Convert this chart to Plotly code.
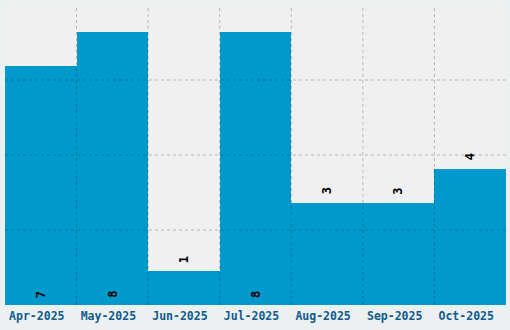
import plotly.graph_objects as go

categories = ["Apr-2025", "May-2025", "Jun-2025", "Jul-2025", "Aug-2025", "Sep-2025", "Oct-2025"]
values = [7, 8, 1, 8, 3, 3, 4]
text_positions = ["inside", "inside", "outside", "inside", "outside", "outside", "outside"]

y_max = 8.8
y_step = 2.2

fig = go.Figure()
fig.add_trace(go.Bar(
    x=list(range(len(categories))),
    y=values,
    marker=dict(color="#0099cc", line=dict(width=0)),
    cliponaxis=False,
    hoverinfo="skip",
))

for i, (v, pos) in enumerate(zip(values, text_positions)):
    fig.add_annotation(
        x=i, y=(0 if pos == "inside" else v), xref="x", yref="y",
        text=str(v), showarrow=False, textangle=-90,
        yanchor="bottom", xanchor="center",
        yshift=(5 if pos == "inside" else 6),
        font=dict(family="DejaVu Sans Mono", size=12, color="#000000", weight="bold"),
    )

grid_color = "rgba(0,0,0,0.24)"
shapes = []
for i in range(1, len(categories)):
    shapes.append(dict(type="line", xref="x", yref="paper", x0=i - 0.5, x1=i - 0.5, y0=0, y1=1,
                       line=dict(color=grid_color, width=1, dash="dot"), layer="above"))
k = 1
while k * y_step < y_max - 1e-9:
    shapes.append(dict(type="line", xref="paper", yref="y", x0=0, x1=1, y0=k * y_step, y1=k * y_step,
                       line=dict(color=grid_color, width=1, dash="dot"), layer="above"))
    k += 1

fig.update_layout(
    width=510, height=330,
    margin=dict(l=5, r=4, t=5, b=25),
    paper_bgcolor="#edf0f0",
    plot_bgcolor="#f0f0f0",
    bargap=0,
    showlegend=False,
    shapes=shapes,
    xaxis=dict(
        range=[-0.5, len(categories) - 0.5],
        tickmode="array",
        tickvals=list(range(len(categories))),
        ticktext=categories,
        showgrid=False, zeroline=False, showline=False, ticks="",
        ticklabelstandoff=2,
        ticklabelshift=-4,
        tickfont=dict(family="DejaVu Sans Mono", size=11.5, color="#0e5c8e", weight="bold"),
    ),
    yaxis=dict(
        range=[0, y_max],
        showgrid=False, zeroline=False, showline=False, showticklabels=False, ticks="",
    ),
)

fig.write_html("out.html")
